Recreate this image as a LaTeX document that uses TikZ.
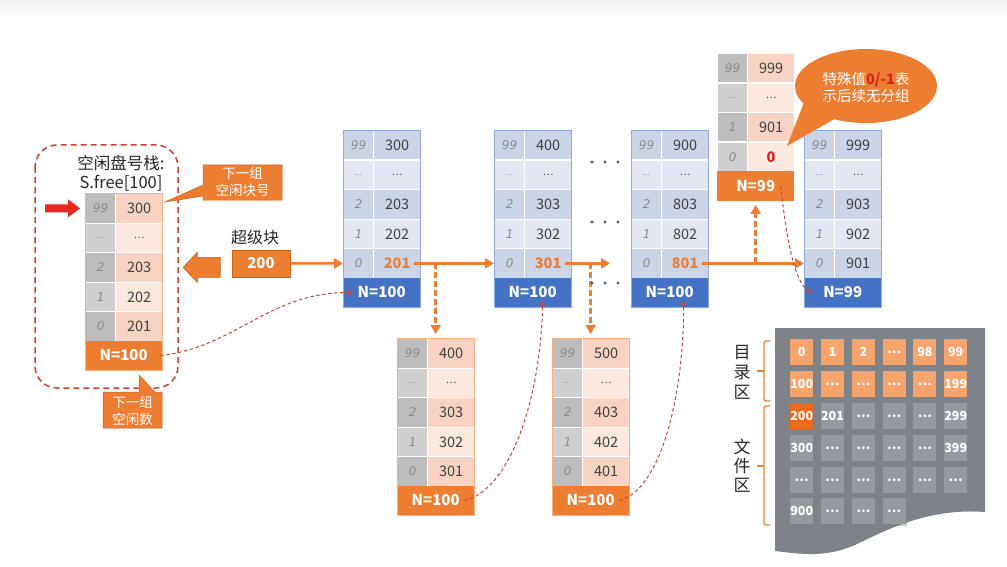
\documentclass[tikz,border=0pt]{standalone}
\usepackage{fontspec}
\setmainfont{Noto Sans CJK SC}
\newfontfamily\idxfont{DejaVu Sans}
\usetikzlibrary{arrows.meta,calc,shadows}
\definecolor{orangeM}{HTML}{ED7D31}
\definecolor{orangeD}{HTML}{C9601A}
\definecolor{orangeL}{HTML}{F5A46D}
\definecolor{orangeX}{HTML}{EE6A1A}
\definecolor{redB}{HTML}{E8281C}
\definecolor{redT}{HTML}{E02020}
\definecolor{redBox}{HTML}{D23F31}
\definecolor{redLine}{HTML}{C8453A}
\definecolor{idxgray}{HTML}{8A8A8A}
\definecolor{valgray}{HTML}{404040}
\definecolor{biD}{HTML}{CCD4E8}
\definecolor{biL}{HTML}{E3E7F2}
\definecolor{bvD}{HTML}{CCD4E8}
\definecolor{bvL}{HTML}{E3E7F2}
\definecolor{bN}{HTML}{4472C4}
\definecolor{bB}{HTML}{8FAADC}
\definecolor{oiD}{HTML}{BDBDBD}
\definecolor{oiL}{HTML}{CFCFCF}
\definecolor{ovD}{HTML}{F8D3C3}
\definecolor{ovL}{HTML}{FBE8DF}
\definecolor{oN}{HTML}{ED7D31}
\definecolor{oB}{HTML}{F4B183}
\definecolor{diskbg}{HTML}{7E838A}
\definecolor{dsqg}{HTML}{96999E}
\newcommand\cellrow[7]{%
  \node[idxcell,fill=#4] (#1i) at (#2,#3) {#6};
  \node[valcell,fill=#5] (#1v) at (#2+30,#3) {#7};}
\newcommand\mystack[9]{%
  \cellrow{#1-99}{#2}{#3}{#4iD}{#4vD}{99}{#5}
  \cellrow{#1-d}{#2}{#3+29.5}{#4iL}{#4vL}{\dotidx}{#6}
  \cellrow{#1-2}{#2}{#3+59}{#4iD}{#4vD}{2}{#7}
  \cellrow{#1-1}{#2}{#3+88.5}{#4iL}{#4vL}{1}{#8}
  \cellrow{#1-0}{#2}{#3+118}{#4iD}{#4vD}{0}{#9}}
\newcommand\dotidx{{\fontsize{8}{8}\selectfont\ldots}}
\newcommand\dotval{{\fontsize{10}{10}\selectfont\ldots}}
\tikzset{
  idxcell/.style={anchor=north west,minimum width=30pt,minimum height=29.5pt,inner sep=0pt,draw=white,line width=1.2pt,text=idxgray,font=\idxfont\itshape\fontsize{12}{12}\selectfont},
  valcell/.style={anchor=north west,minimum width=47pt,minimum height=29.5pt,inner sep=0pt,draw=white,line width=1.2pt,text=valgray,font=\fontsize{14.5}{14.5}\selectfont},
  ncell/.style={anchor=north west,minimum width=77pt,minimum height=29.5pt,inner sep=0pt,text=white,font=\bfseries\fontsize{15}{15}\selectfont},
  oarrow/.style={draw=orangeM,line width=2.5pt,-{Triangle[length=9pt,width=10pt]}},
  odash/.style={draw=orangeM,line width=2.5pt,dash pattern=on 6pt off 3pt,-{Triangle[length=9pt,width=10pt]},shorten >=4pt},
  rdash/.style={draw=redLine,line width=1pt,dash pattern=on 3.5pt off 2.5pt,-{Stealth[length=7pt,width=6pt]}},
  dsq/.style={anchor=north west,minimum width=23pt,minimum height=26pt,inner sep=0pt,text=white,font=\bfseries\fontsize{12.5}{12.5}\selectfont,drop shadow={shadow xshift=1.5pt,shadow yshift=-1.5pt,opacity=.4}},
  lbl/.style={align=center,inner sep=0pt},
}
\begin{document}
\begin{tikzpicture}[x=1pt,y=-1pt]
\fill[white] (0,0) rectangle (1007,567);
\useasboundingbox (0,0) rectangle (1007,567);
\shade[top color=black!5,bottom color=white] (0,0) rectangle (1007,22);

% ---------- S.free stack ----------
\draw[redBox,line width=1.5pt,dash pattern=on 6pt off 4pt,rounded corners=22pt] (35,145) rectangle (178,388);
\node[lbl,font=\fontsize{16.5}{19}\selectfont,text=black!85] (title) at (121,173) {空闲盘号栈:\\S.free[100]};
\mystack{SF}{85}{193}{o}{300}{\dotval}{203}{202}{201}
\node[ncell,fill=oN] (SF-N) at (85,340.5) {N=100};
\draw[oB,line width=0.8pt] (SF-99i.north west) rectangle (SF-N.south east);
% red arrow
\coordinate (ra) at ([xshift=-5pt]SF-99i.west);
\fill[redB] (ra) -- ++(-12,-9) -- ++(0,5) -- ++(-23,0) -- ++(0,8) -- ++(23,0) -- ++(0,5) -- cycle;
% orange left arrow
\coordinate (oa) at ([xshift=20pt]SF-2v.east);
\filldraw[fill=orangeM,draw=orangeD,line width=0.6pt] (oa) -- ++(14,-15) -- ++(0,5) -- ++(23,0) -- ++(0,20) -- ++(-23,0) -- ++(0,5) -- cycle;
% callouts
\filldraw[fill=orangeM,draw=orangeD,line width=0.5pt] (203,165) -- (282,165) -- (282,200) -- (203,200) -- (203,196) -- (165,202) -- (203,185) -- cycle;
\node[lbl,text=white,font=\fontsize{13.5}{17}\selectfont] (cb1) at (242.5,182) {下一组\\空闲块号};
\filldraw[fill=orangeM,draw=orangeD,line width=0.5pt] (103,392) -- (139,392) -- (139,375) -- (155,392) -- (162,392) -- (162,428) -- (103,428) -- cycle;
\node[lbl,text=white,font=\fontsize{13.5}{17}\selectfont] (cb2) at (132.5,411) {下一组\\空闲数};

% ---------- super block ----------
\node[font=\fontsize{16}{16}\selectfont,text=black!85] (sbl) at (255,237) {超级块};
\node[fill=orangeM,draw=orangeD,line width=0.5pt,minimum width=58pt,minimum height=27pt,inner sep=0pt,text=white,font=\bfseries\fontsize{15}{15}\selectfont] (sb) at (261,263.5) {200};

% ---------- blue stacks ----------
\mystack{B1}{343}{130}{b}{300}{\dotval}{203}{202}{\textcolor{orangeM}{\bfseries 201}}
\node[ncell,fill=bN] (B1-N) at (343,277.5) {N=100};
\draw[bB,line width=0.8pt] (B1-99i.north west) rectangle (B1-N.south east);
\mystack{B2}{494}{130}{b}{400}{\dotval}{303}{302}{\textcolor{orangeM}{\bfseries 301}}
\node[ncell,fill=bN] (B2-N) at (494,277.5) {N=100};
\draw[bB,line width=0.8pt] (B2-99i.north west) rectangle (B2-N.south east);
\mystack{B3}{631}{130}{b}{900}{\dotval}{803}{802}{\textcolor{orangeM}{\bfseries 801}}
\node[ncell,fill=bN] (B3-N) at (631,277.5) {N=100};
\draw[bB,line width=0.8pt] (B3-99i.north west) rectangle (B3-N.south east);
\mystack{B4}{804}{130}{b}{999}{\dotval}{903}{902}{901}
\node[ncell,fill=bN] (B4-N) at (804,277.5) {N=99};
\draw[bB,line width=0.8pt] (B4-99i.north west) rectangle (B4-N.south east);

% ---------- orange stacks ----------
\cellrow{T-99}{717}{53}{oiD}{ovD}{99}{999}
\cellrow{T-d}{717}{82.5}{oiL}{ovL}{\dotidx}{\dotval}
\cellrow{T-1}{717}{112}{oiD}{ovD}{1}{901}
\cellrow{T-0}{717}{141.5}{oiL}{ovL}{0}{\textcolor{redT}{\bfseries 0}}
\node[ncell,fill=oN] (T-N) at (717,171) {N=99};
\mystack{O1}{397}{338}{o}{400}{\dotval}{303}{302}{301}
\node[ncell,fill=oN] (O1-N) at (397,485.5) {N=100};
\draw[oB,line width=0.8pt] (O1-99i.north west) rectangle (O1-N.south east);
\mystack{O2}{552}{338}{o}{500}{\dotval}{403}{402}{401}
\node[ncell,fill=oN] (O2-N) at (552,485.5) {N=100};
\draw[oB,line width=0.8pt] (O2-99i.north west) rectangle (O2-N.south east);

% ---------- connectors ----------
\draw[oarrow] (sb.east) -- (B1-0i.west);
\draw[oarrow] ([xshift=-7pt]B1-0v.east) -- (B2-0i.west);
\draw[odash] (B1-0v.east -| O1-N.north) -- (O1-99i.north -| O1-N.north);
\coordinate (gap) at ([xshift=-21pt]B3-0i.west);
\draw[oarrow] ([xshift=-7pt]B2-0v.east) -- (gap);
\draw[odash] (B2-0v.east -| O2-N.north) -- (O2-99i.north -| O2-N.north);
\draw[oarrow] ([xshift=-7pt]B3-0v.east) -- (B4-0i.west);
\draw[odash] (B3-0v.east -| T-N.south) -- (T-N.south);

\draw[rdash] ([xshift=-2pt]SF-N.east) .. controls +(75,-8) and +(-85,0) .. ([xshift=10pt]B1-N.west);
\draw[rdash] ([xshift=-10pt]O1-N.east) .. controls +(45,-10) and +(-2,100) .. ([xshift=10pt,yshift=7pt]B2-N.south);
\draw[rdash] ([xshift=-10pt]O2-N.east) .. controls +(40,-10) and +(0,100) .. ([xshift=14pt,yshift=7pt]B3-N.south);
\draw[rdash] ([xshift=25pt]T-N.center) .. controls +(6,55) and +(-18,-8) .. ([xshift=9pt]B4-N.west);

% dots
\foreach \yy in {162,222,283} \foreach \xx in {592,605,618} \fill[black!65] (\xx,\yy) circle (1.6);

% ---------- speech bubble ----------
\fill[orangeM] (866,86) ellipse [x radius=71, y radius=37];
\fill[orangeM] (805,100) -- (787,146) -- (838,117) -- cycle;
\node[lbl,text=white,font=\fontsize{14.5}{17}\selectfont] (bub) at (866,88) {特殊值\textcolor{redT}{\bfseries 0/-1}表\\示后续无分组};

% ---------- disk ----------
\fill[diskbg] (775,328) -- (985,328) -- (985,512) .. controls (930,508) and (890,528) .. (855,545) .. controls (825,558) and (800,554) .. (775,551) -- cycle;
\foreach \t [count=\c from 0] in {0,1,2,{\ldots},98,99} \node[dsq,fill=orangeL] (dA\c) at (790+\c*30.8,339) {\t};
\foreach \t [count=\c from 0] in {100,{\ldots},{\ldots},{\ldots},{\ldots},199} \node[dsq,fill=orangeL] (dB\c) at (790+\c*30.8,371) {\t};
\node[dsq,fill=orangeX] (dC0) at (790,403) {200};
\foreach \t [count=\c from 1] in {201,{\ldots},{\ldots},{\ldots},299} \node[dsq,fill=dsqg] (dC\c) at (790+\c*30.8,403) {\t};
\foreach \t [count=\c from 0] in {300,{\ldots},{\ldots},{\ldots},{\ldots},399} \node[dsq,fill=dsqg] (dD\c) at (790+\c*30.8,435) {\t};
\foreach \t [count=\c from 0] in {{\ldots},{\ldots},{\ldots},{\ldots},{\ldots},{\ldots}} \node[dsq,fill=dsqg] (dE\c) at (790+\c*30.8,467) {\t};
\foreach \t [count=\c from 0] in {900,{\ldots},{\ldots},{\ldots}} \node[dsq,fill=dsqg] (dF\c) at (790+\c*30.8,498) {\t};
% braces and labels
\draw[orangeM,line width=1.2pt,rounded corners=2pt] (770,341) -- (764,341) -- (764,401) -- (770,401);
\draw[orangeM,line width=1.2pt] (764,371) -- (757,371);
\draw[orangeM,line width=1.2pt,rounded corners=2pt] (770,406) -- (764,406) -- (764,525) -- (770,525);
\draw[orangeM,line width=1.2pt] (764,466) -- (757,466);
\node[lbl,font=\fontsize{17}{20}\selectfont,text=black!85] (mlq) at (742,372) {目\\录\\区};
\node[lbl,font=\fontsize{17}{19}\selectfont,text=black!85] (wjq) at (742,466) {文\\件\\区};
\end{tikzpicture}
\end{document}
